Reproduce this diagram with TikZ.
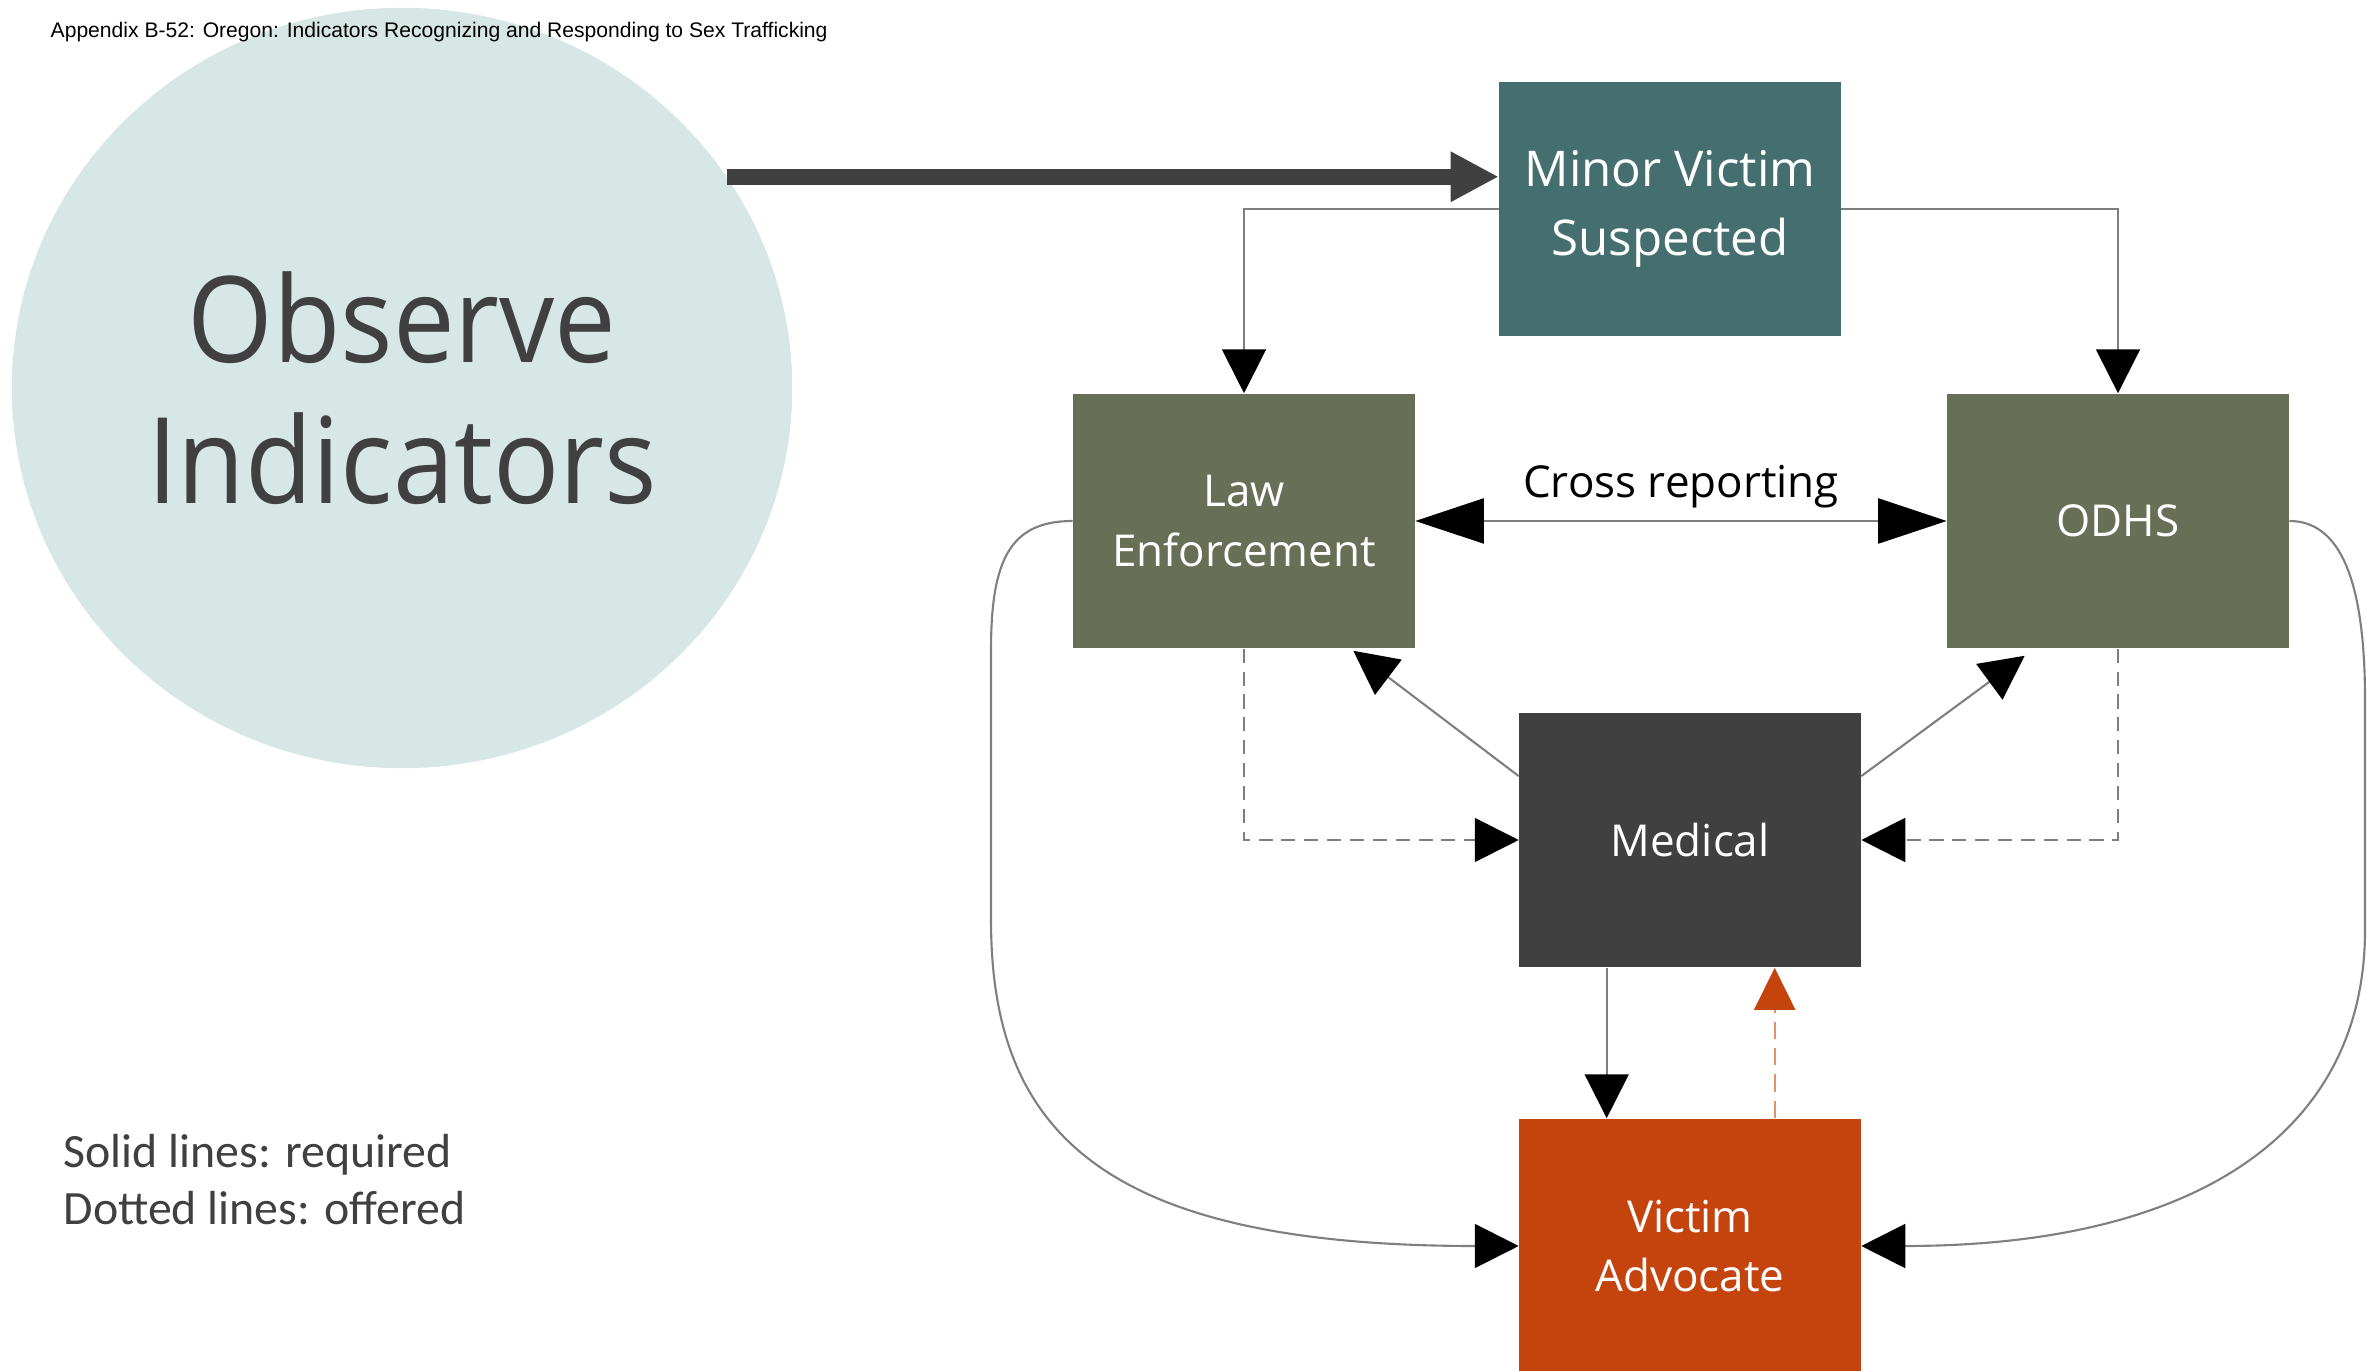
\documentclass[tikz,border=0pt]{standalone}
\usepackage{fontspec}
\setmainfont{Open Sans}
\newfontfamily\titlefont{Liberation Sans}
\newfontfamily\notefont{Carlito}
\newfontfamily\bigfont[FakeStretch=0.92]{Open Sans}
\usetikzlibrary{arrows.meta, shapes.geometric, calc}

\definecolor{circfill}{HTML}{D6E7E5}
\definecolor{mvteal}{HTML}{446F6E}
\definecolor{boxolive}{HTML}{677056}
\definecolor{medgray}{HTML}{404040}
\definecolor{vaorange}{HTML}{C5440E}
\definecolor{lightorange}{HTML}{E0926A}
\definecolor{linegray}{HTML}{7F7F7F}
\definecolor{textgray}{HTML}{404040}

\begin{document}
\begin{tikzpicture}[x=0.01cm, y=-0.01cm,
    box/.style={rectangle, minimum width=3.41cm, minimum height=2.54cm, inner sep=2pt,
        align=center, text=white, font=\fontsize{12.5}{17}\selectfont},
    req/.style={draw=linegray, line width=0.6pt, -{Triangle[color=black, length=12.5pt, width=12.5pt]}},
    opt/.style={req, dash pattern=on 4pt off 2.5pt}]
				\useasboundingbox (0,0) rectangle (2367,1371);
				
				% 1. circle and title
				\node[ellipse, fill=circfill, minimum width=7.8cm, minimum height=7.6cm, inner sep=0pt,
				      text=textgray, align=center, font=\bigfont\fontsize{34}{40}\selectfont]
				      (obs) at (402,388) {Observe\\Indicators};
				\node[anchor=base west, inner sep=0pt, font=\titlefont\fontsize{6}{7}\selectfont] (title) at (50,38)
				      {Appendix B-52: Oregon: Indicators Recognizing and Responding to Sex Trafficking};
				
				% 2. boxes
				\node[box, fill=mvteal, font=\fontsize{14}{19.5}\selectfont] (mv) at (1670,209) {Minor Victim\\Suspected};
				\node[box, fill=boxolive] (le) at (1244,521) {Law\\Enforcement};
				\node[box, fill=boxolive] (odhs) at (2118,521) {ODHS};
				\node[box, fill=medgray] (med) at (1690,840) {Medical};
				\node[box, fill=vaorange] (va) at (1690,1246) {Victim\\Advocate};
				
				% 3. legend
				\node[anchor=base west, inner sep=0pt, align=left, text=textgray, font=\notefont\fontsize{13.6}{16}\selectfont]
				      (legend) at (63,1224) {Solid lines: required\\Dotted lines: offered};
				
				% 4. connectors
				\draw[draw=medgray, line width=4.5pt, -{Triangle[length=13.7pt, width=13.4pt]}]
				      (obs.33.8) -- (obs.33.8 -| mv.west);
				\draw[req] (mv.west) -| (le.north);
				\draw[req] (mv.east) -| (odhs.north);
				\draw[draw=linegray, line width=0.6pt,
				      {Triangle[color=black, length=19.5pt, width=12.8pt]}-{Triangle[color=black, length=19.5pt, width=12.8pt]}]
				      (le.east) -- node[above=0pt, font=\fontsize{12.5}{15}\selectfont] (cross) {Cross reporting} (odhs.west);
				\draw[req] ($(med.north west)!0.25!(med.south west)$) -- ($(le.south east)+(-62,2)$);
				\draw[req] ($(med.north east)!0.25!(med.south east)$) -- ($(odhs.south west)+(78,7)$);
				\draw[opt] (le.south) |- (med.west);
				\draw[opt] (odhs.south) |- (med.east);
				\draw[req] ($(med.south west)+(88,0)$) -- ($(va.north west)+(88,0)$);
				\draw[draw=lightorange, line width=0.6pt, dash pattern=on 5pt off 2.5pt,
				      -{Triangle[color=vaorange, length=12pt, width=11.7pt]}]
				      ($(va.north west)+(256,0)$) -- ($(med.south west)+(256,0)$);
				
				% 5. curved connectors to victim advocate
				\draw[req] (le.west) .. controls (1010,521) and (991,560) .. (991,650) -- (991,920)
				      .. controls (991,1130) and (1100,1246) .. (va.west);
				\draw[req] (odhs.east) .. controls (2340,521) and (2365,580) .. (2365,700) -- (2365,930)
				      .. controls (2365,1130) and (2200,1246) .. (va.east);
			\end{tikzpicture}
\end{document}
